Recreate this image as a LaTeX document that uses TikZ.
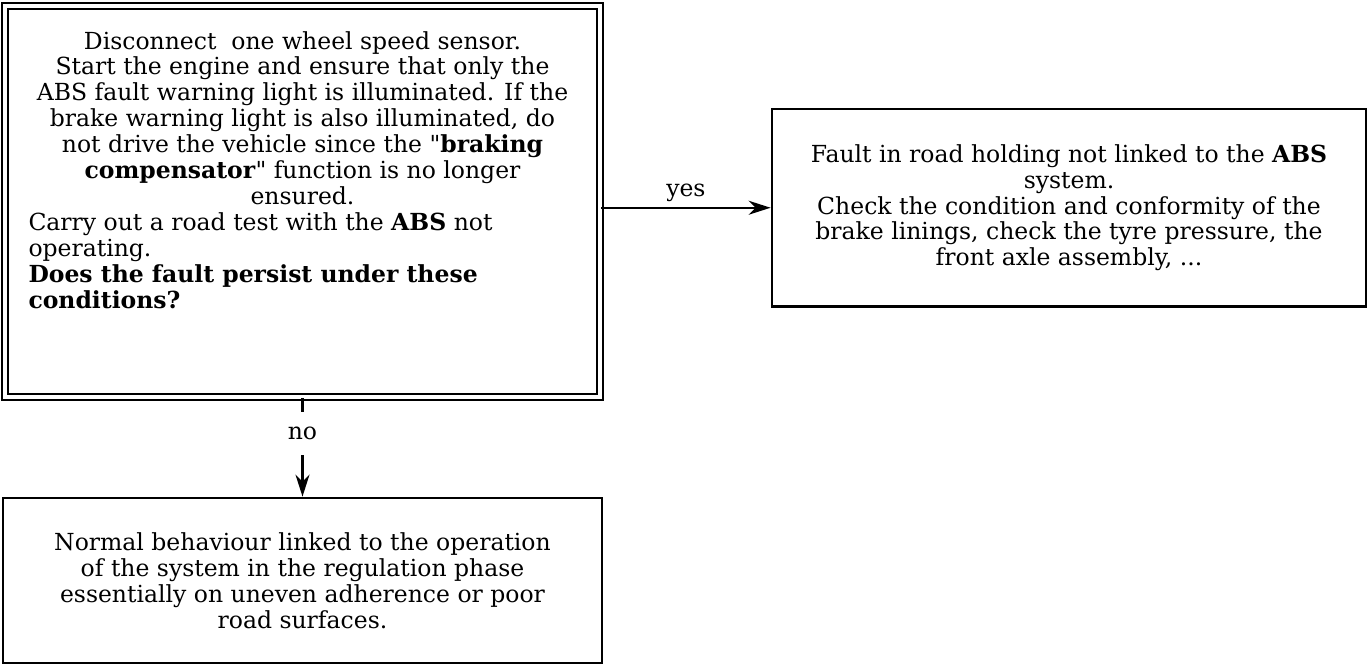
\documentclass[tikz,border=0pt]{standalone}
\usepackage{fontspec}
\setmainfont{DejaVu Serif}[Ligatures=TeXOff]
\usetikzlibrary{arrows.meta}

\begin{document}
\begin{tikzpicture}[x=1pt,y=1pt,
    box/.style={draw, line width=2.8pt, inner sep=0pt},
    dbox/.style={draw, double, line width=2.4pt, double distance=3.4pt, inner sep=0pt},
    txt/.style={font=\fontsize{23.5}{25.9}\selectfont, align=center, inner sep=0pt},
    link/.style={line width=2.4pt, -{Stealth[length=22pt,width=14pt,inset=7pt]}}]
    \useasboundingbox (0,0) rectangle (1368,670);
    % Cadre double : question
    \node[dbox, minimum width=595pt, minimum height=391pt] (test) at (302.5,468.5) {};
    \node[txt, anchor=north] (testtxt) at (302.5,639) {%
        Disconnect\ \ one wheel speed sensor.\\
        Start the engine and ensure that only the\\
        ABS fault warning light is illuminated. If the\\
        brake warning light is also illuminated, do\\
        not drive the vehicle since the "\textbf{braking}\\
        \textbf{compensator}" function is no longer\\
        ensured.\\
        \makebox[548pt][l]{Carry out a road test with the \textbf{ABS} not}\\
        \makebox[548pt][l]{operating.}\\
        \makebox[548pt][l]{\textbf{Does the fault persist under these}}\\
        \makebox[548pt][l]{\textbf{conditions?}}};
    % Cas oui
    \node[box, txt, minimum width=594pt, minimum height=197.5pt] (road) at (1069,462.25) {%
        Fault in road holding not linked to the \textbf{ABS}\\
        system.\\
        Check the condition and conformity of the\\
        brake linings, check the tyre pressure, the\\
        front axle assembly, ...};
    % Cas non
    \node[box, txt, minimum width=599pt, minimum height=165pt] (normal) at (302.5,89.5) {%
        Normal behaviour linked to the operation\\
        of the system in the regulation phase\\
        essentially on uneven adherence or poor\\
        road surfaces.};
    % Flèches
    \draw[link] (test.east |- road.west) -- node[txt, above=5pt] (yes) {yes} (road.west);
    \draw[link] (test.south) -- node[txt, pos=0.36, fill=white, minimum height=43pt, minimum width=40pt] (no) {no} (normal.north);
\end{tikzpicture}
\end{document}
